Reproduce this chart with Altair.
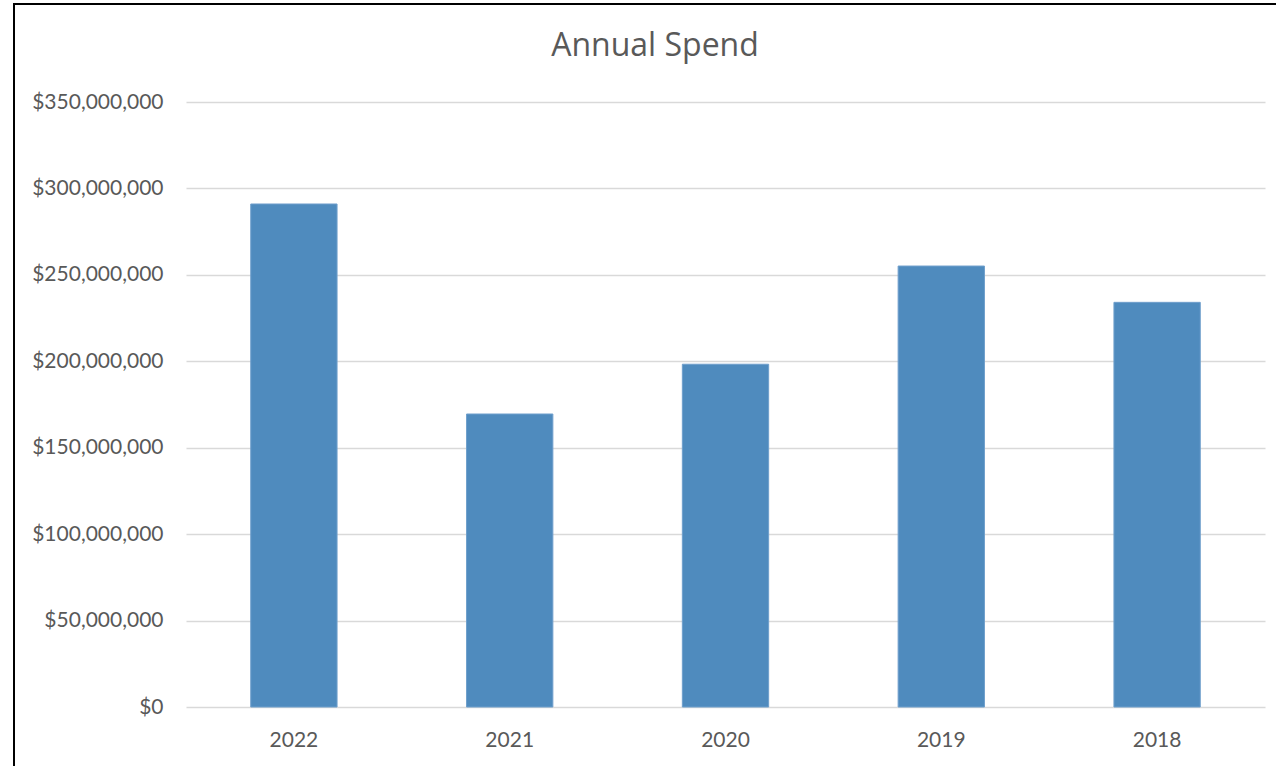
import altair as alt
import pandas as pd

years = ["2022", "2021", "2020", "2019", "2018"]
spend = [291000000, 169500000, 198300000, 255100000, 234100000]

df = pd.DataFrame({"Year": years, "Spend": spend})

FONT = "Lato"

bars = alt.Chart(df).mark_bar(color="#4f8bbe", stroke="#6f9fcc", strokeWidth=1).encode(
    x=alt.X("Year:N", sort=years, title=None,
            scale=alt.Scale(paddingInner=0.6, paddingOuter=0.3),
            axis=alt.Axis(labelAngle=0, labelPadding=22, ticks=False, domain=False,
                          labelFontSize=21, labelColor="#595959", labelFont=FONT, grid=False)),
    y=alt.Y("Spend:Q", title=None,
            scale=alt.Scale(domain=[0, 350000000], nice=False),
            axis=alt.Axis(values=[0, 50000000, 100000000, 150000000, 200000000, 250000000, 300000000, 350000000],
                          format="$,.0f", labelPadding=23, ticks=False, domain=False,
                          labelFontSize=21, labelColor="#595959", labelFont=FONT,
                          gridColor="#d9d9d9", gridWidth=1.3)),
)

border = alt.Chart(df).mark_rect(fill=None, stroke="#000000", strokeWidth=2).encode(
    x=alt.value(-172), x2=alt.value(1110),
    y=alt.value(-98), y2=alt.value(700),
)

chart = alt.layer(bars, border).properties(
    width=1079, height=605,
    title=alt.TitleParams("Annual Spend", fontSize=32, font="Open Sans", fontWeight="normal",
                          color="#595959", anchor="middle", frame="bounds", offset=-60),
    padding={"left": 186, "top": 102, "right": 11, "bottom": 59},
    autosize=alt.AutoSizeParams(type="none"),
    background="white",
).configure_view(stroke=None)

chart.save("out.html", embed_options={"renderer": "svg", "actions": False})
